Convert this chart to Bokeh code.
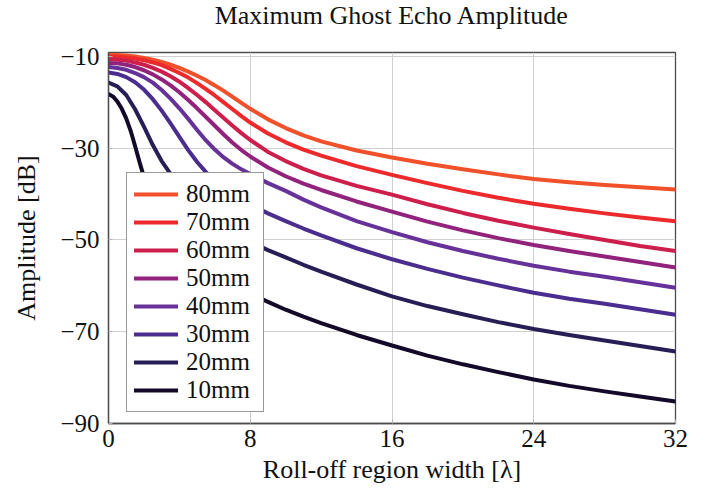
from bokeh.plotting import figure
from bokeh.models import Range1d, FixedTicker, Legend, LegendItem, Title
from bokeh.embed import file_html
from bokeh.resources import INLINE

# Roll-off region width in wavelengths (shared sampling for the wider apertures)
x_common = [0, 0.5, 1, 1.5, 2, 2.5, 3, 3.5, 4, 4.5, 5, 5.5, 6, 6.5, 7, 7.5, 8,
            9, 10, 11, 12, 14, 16, 18, 20, 22, 24, 26, 28, 30, 32]
# Finer sampling near the origin for the 10 mm aperture
x_10mm = [0, 0.25, 0.5, 0.75, 1, 1.25, 1.5, 1.75, 2, 2.5, 3, 3.5, 4, 5, 6, 7, 8,
          9, 10, 11, 12, 14, 16, 18, 20, 22, 24, 26, 28, 30, 32]

amp_80mm = [-9.6, -9.65, -9.8, -10.0, -10.3, -10.7, -11.2, -11.8, -12.5, -13.3, -14.2,
            -15.2, -16.3, -17.5, -18.8, -20.1, -21.4, -23.7, -25.6, -27.2, -28.5, -30.5,
            -32.0, -33.4, -34.6, -35.7, -36.7, -37.4, -38.0, -38.5, -39.0]
amp_70mm = [-10.0, -10.05, -10.2, -10.45, -10.8, -11.3, -11.9, -12.7, -13.6, -14.6, -15.8,
            -17.1, -18.5, -20.0, -21.5, -23.0, -24.4, -26.8, -28.7, -30.3, -31.6, -33.9,
            -35.8, -37.6, -39.3, -40.8, -42.1, -43.2, -44.2, -45.1, -45.9]
amp_60mm = [-10.6, -10.7, -10.9, -11.3, -11.8, -12.5, -13.3, -14.3, -15.5, -16.9, -18.4,
            -20.0, -21.7, -23.4, -25.1, -26.7, -28.2, -30.8, -32.8, -34.5, -35.9, -38.2,
            -40.1, -42.2, -44.1, -45.8, -47.3, -48.7, -50.0, -51.3, -52.4]
amp_50mm = [-11.4, -11.5, -11.8, -12.3, -13.0, -13.9, -15.0, -16.3, -17.8, -19.5, -21.3,
            -23.2, -25.1, -27.0, -28.8, -30.4, -31.8, -34.2, -36.1, -37.7, -39.1, -41.6,
            -43.8, -46.0, -47.9, -49.6, -51.1, -52.4, -53.6, -54.8, -56.0]
amp_40mm = [-12.3, -12.5, -12.9, -13.6, -14.5, -15.7, -17.3, -19.2, -21.3, -23.6, -26.0,
            -28.3, -30.3, -32.0, -33.4, -34.6, -35.6, -37.6, -39.3, -41.2, -42.9, -45.9,
            -48.3, -50.5, -52.4, -54.1, -55.6, -56.9, -58.0, -59.2, -60.4]
amp_30mm = [-13.5, -13.8, -14.5, -15.6, -17.2, -19.3, -21.8, -24.6, -27.5, -30.4, -33.0,
            -35.2, -37.0, -38.6, -40.0, -41.2, -42.3, -44.2, -45.9, -47.5, -49.0, -51.8,
            -54.2, -56.3, -58.2, -59.9, -61.5, -62.8, -63.9, -65.1, -66.3]
amp_20mm = [-15.7, -16.5, -18.4, -21.5, -25.3, -29.3, -32.8, -35.6, -38.6, -40.9, -42.8,
            -44.4, -45.8, -47.1, -48.3, -49.4, -50.4, -52.2, -53.8, -55.4, -56.9, -59.7,
            -62.3, -64.4, -66.2, -67.9, -69.4, -70.7, -71.9, -73.1, -74.3]
amp_10mm = [-18.2, -18.7, -19.8, -21.4, -23.5, -26.2, -29.5, -33.0, -36.3, -41.5, -45.3,
            -48.2, -50.6, -54.3, -57.2, -59.6, -61.7, -63.5, -65.2, -66.7, -68.1, -70.7,
            -73.0, -75.2, -77.1, -78.8, -80.4, -81.8, -83.0, -84.1, -85.2]

series_labels = ["80mm", "70mm", "60mm", "50mm", "40mm", "30mm", "20mm", "10mm"]
series_x = [x_common] * 7 + [x_10mm]
series_y = [amp_80mm, amp_70mm, amp_60mm, amp_50mm, amp_40mm, amp_30mm, amp_20mm, amp_10mm]
series_colors = ["#F0502A", "#EC2A2C", "#CC1F4C", "#92237D",
                 "#66329A", "#4B2D8F", "#281E55", "#120A28"]

x_ticks = [0, 8, 16, 24, 32]
y_ticks = [-90, -70, -50, -30, -10]
y_tick_labels = ["\u221290", "\u221270", "\u221250", "\u221230", "\u221210"]

FONT = "Liberation Serif"
INK = "#111111"

p = figure(width=711, height=493, output_backend="svg", toolbar_location=None,
           x_range=Range1d(0, 32), y_range=Range1d(-90, -9.13),
           min_border_left=108, min_border_right=36, min_border_top=51,
           min_border_bottom=70, title="Maximum Ghost Echo Amplitude")

p.title.text_font = FONT
p.title.text_font_size = "26px"
p.title.text_font_style = "normal"
p.title.text_color = INK
p.title.align = "center"
p.title.vertical_align = "top"
p.title.standoff = 0

# Blank band between the title and the frame, so the title sits at the top edge
p.add_layout(Title(text=" ", text_font_size="12px", standoff=5), "above")

p.outline_line_color = "#4d4d4d"
p.outline_line_width = 1.3
p.background_fill_color = "white"
p.border_fill_color = "white"

for ax in (p.xaxis[0], p.yaxis[0]):
    ax.axis_line_color = "#4d4d4d"
    ax.axis_line_width = 1.3
    ax.major_tick_in = 4
    ax.major_tick_out = 0
    ax.major_tick_line_color = "#b0b0b0"
    ax.minor_tick_line_color = None
    ax.major_label_text_font = FONT
    ax.major_label_text_font_size = "25px"
    ax.major_label_text_color = INK
    ax.axis_label_text_font = FONT
    ax.axis_label_text_font_size = "26px"
    ax.axis_label_text_font_style = "normal"
    ax.axis_label_text_color = INK

p.xaxis.ticker = FixedTicker(ticks=x_ticks)
p.yaxis.ticker = FixedTicker(ticks=y_ticks)
p.yaxis.major_label_overrides = dict(zip(y_ticks, y_tick_labels))
p.xaxis.axis_label = "Roll-off region width [\u03bb]"
p.yaxis.axis_label = "Amplitude [dB]"
p.xaxis.major_label_standoff = 6
p.yaxis.major_label_standoff = 9
p.xaxis.axis_label_standoff = 5
p.yaxis.axis_label_standoff = 16

p.grid.grid_line_color = "#d0d0d0"
p.grid.grid_line_width = 1
p.xgrid.ticker = FixedTicker(ticks=x_ticks)
p.ygrid.ticker = FixedTicker(ticks=y_ticks)

items = []
for lbl, xs, ys, col in zip(series_labels, series_x, series_y, series_colors):
    r = p.line(xs, ys, line_width=4, line_color=col, line_join="round", line_cap="round")
    items.append(LegendItem(label=lbl, renderers=[r]))

legend = Legend(items=items, location=(18, 11), orientation="vertical",
                border_line_color="#333333", border_line_width=1,
                background_fill_color="white", background_fill_alpha=1.0,
                padding=7, spacing=0, margin=0,
                glyph_width=44, glyph_height=26, label_height=26,
                label_standoff=8, label_width=70,
                label_text_font=FONT, label_text_font_size="25px",
                label_text_color=INK)
p.add_layout(legend)

open("out.html", "w").write(file_html(p, INLINE))
